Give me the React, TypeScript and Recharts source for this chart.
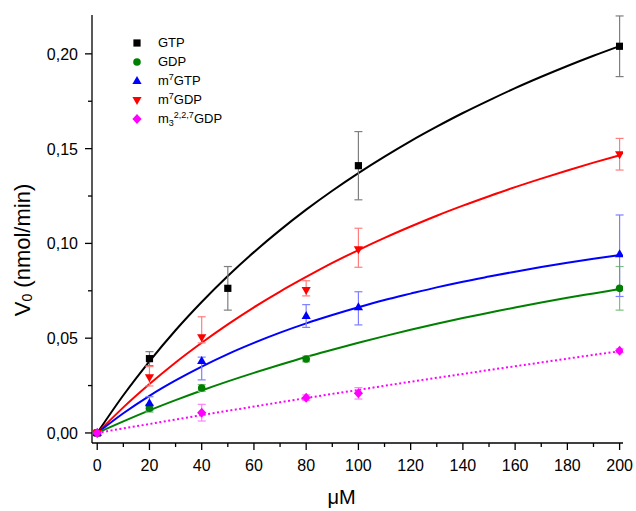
import {
  ComposedChart,
  ErrorBar,
  Legend,
  Line,
  Scatter,
  XAxis,
  YAxis,
} from "recharts";

// fitted curves, every 10 µM
const fitX = [0, 10, 20, 30, 40, 50, 60, 70, 80, 90, 100, 110, 120, 130, 140, 150, 160, 170, 180, 190, 200];
const gtpFit = [0, 0.0199, 0.0378, 0.0542, 0.0691, 0.0828, 0.0954, 0.107, 0.1178, 0.1278, 0.1371, 0.1458, 0.154, 0.1616, 0.1688, 0.1755, 0.1819, 0.1879, 0.1936, 0.199, 0.2041];
const gdpFit = [0, 0.0061, 0.0119, 0.0173, 0.0224, 0.0272, 0.0317, 0.036, 0.0401, 0.0439, 0.0476, 0.0511, 0.0544, 0.0576, 0.0606, 0.0634, 0.0662, 0.0688, 0.0713, 0.0736, 0.0759];
const m7gtpFit = [0, 0.0104, 0.0196, 0.0277, 0.035, 0.0416, 0.0475, 0.0529, 0.0578, 0.0622, 0.0663, 0.0701, 0.0735, 0.0768, 0.0798, 0.0825, 0.0851, 0.0875, 0.0898, 0.0919, 0.0939];
const m7gdpFit = [0, 0.0135, 0.0258, 0.0372, 0.0476, 0.0573, 0.0663, 0.0746, 0.0823, 0.0897, 0.0965, 0.1029, 0.1089, 0.1146, 0.1199, 0.1249, 0.1297, 0.1342, 0.1385, 0.1426, 0.1465];
const m3gdpFit = [0, 0.0024, 0.0047, 0.0071, 0.0094, 0.0117, 0.0139, 0.0162, 0.0184, 0.0206, 0.0227, 0.0249, 0.027, 0.0291, 0.0311, 0.0332, 0.0352, 0.0372, 0.0392, 0.0412, 0.0431];

// measured points, error as [minus, plus]
const gtpX = [0, 20, 50, 100, 200];
const gtpY = [0, 0.0392, 0.0763, 0.141, 0.204];
const gtpErr = [[0.001, 0.001], [0.0037, 0.0037], [0.0115, 0.0115], [0.018, 0.018], [0.016, 0.016]];

const gdpX = [0, 20, 40, 80, 200];
const gdpY = [0, 0.013, 0.0237, 0.039, 0.0763];
const gdpErr = [[0.001, 0.001], [0.002, 0.002], [0.0018, 0.0018], [0.0015, 0.0015], [0.0115, 0.0115]];

const m7gtpX = [0, 20, 40, 80, 100, 200];
const m7gtpY = [0, 0.0157, 0.038, 0.0617, 0.0663, 0.0943];
const m7gtpErr = [[0.001, 0.001], [0.004, 0.0034], [0.01, 0.002], [0.006, 0.006], [0.0093, 0.0082], [0.0223, 0.0207]];

const m7gdpX = [0, 20, 40, 80, 100, 200];
const m7gdpY = [0, 0.0294, 0.0505, 0.0754, 0.0969, 0.147];
const m7gdpErr = [[0.001, 0.001], [0.0046, 0.0056], [0.003, 0.0108], [0.0031, 0.0049], [0.0095, 0.0111], [0.0083, 0.0084]];

const m3gdpX = [0, 40, 80, 100, 200];
const m3gdpY = [0, 0.0107, 0.0186, 0.0209, 0.0434];
const m3gdpErr = [[0.001, 0.001], [0.0044, 0.0044], [0.0015, 0.0015], [0.003, 0.003], [0.001, 0.001]];

const xTicks = [0, 10, 20, 30, 40, 50, 60, 70, 80, 90, 100, 110, 120, 130, 140, 150, 160, 170, 180, 190, 200];
const yTicks = [0, 0.025, 0.05, 0.075, 0.1, 0.125, 0.15, 0.175, 0.2];

const FONT = "'Liberation Sans', Arial, sans-serif";

const fit = (ys: number[]) => fitX.map((x, i) => ({ x, y: ys[i] }));
const pts = (xs: number[], ys: number[], err: number[][]) =>
  xs.map((x, i) => ({ x, y: ys[i], err: err[i] }));

type Kind = "square" | "circle" | "up" | "down" | "diamond";

function Marker({ kind, cx, cy, color }: { kind: Kind; cx: number; cy: number; color: string }) {
  if (kind === "square") return <rect x={cx - 3.6} y={cy - 3.6} width={7.2} height={7.2} fill={color} />;
  if (kind === "circle") return <circle cx={cx} cy={cy} r={3.8} fill={color} />;
  if (kind === "up")
    return <polygon points={`${cx},${cy - 5} ${cx - 4.6},${cy + 3} ${cx + 4.6},${cy + 3}`} fill={color} />;
  if (kind === "down")
    return <polygon points={`${cx},${cy + 5} ${cx - 4.6},${cy - 3} ${cx + 4.6},${cy - 3}`} fill={color} />;
  return <polygon points={`${cx},${cy - 5} ${cx + 4.6},${cy} ${cx},${cy + 5} ${cx - 4.6},${cy}`} fill={color} />;
}

const shape = (kind: Kind, color: string) => (p: any) => <Marker kind={kind} cx={p.cx} cy={p.cy} color={color} />;

function XTick({ x, y, payload }: any) {
  const major = payload.value % 20 === 0;
  return (
    <g>
      <line x1={x} x2={x} y1={y} y2={y + (major ? 7 : 4)} stroke="#000" strokeWidth={1.3} />
      {major && (
        <text x={x} y={y + 28} textAnchor="middle" fontSize={16} fontFamily={FONT} fill="#000">
          {payload.value}
        </text>
      )}
    </g>
  );
}

function YTick({ x, y, payload }: any) {
  const major = Math.round(payload.value * 1000) % 50 === 0;
  return (
    <g>
      <line x1={x - (major ? 7 : 4)} x2={x} y1={y} y2={y} stroke="#000" strokeWidth={1.3} />
      {major && (
        <text x={x - 14} y={y + 6} textAnchor="end" fontSize={16} fontFamily={FONT} fill="#000">
          {payload.value.toFixed(2).replace(".", ",")}
        </text>
      )}
    </g>
  );
}

const supStyle = { fontSize: 9, position: "relative" as const, top: -5, lineHeight: 0 };
const subStyle = { fontSize: 9, position: "relative" as const, top: 3, lineHeight: 0 };

const legendItems: { kind: Kind; color: string; label: React.ReactNode }[] = [
  { kind: "square", color: "#000000", label: "GTP" },
  { kind: "circle", color: "#008000", label: "GDP" },
  { kind: "up", color: "#0000ff", label: <>m<span style={supStyle}>7</span>GTP</> },
  { kind: "down", color: "#ff0000", label: <>m<span style={supStyle}>7</span>GDP</> },
  { kind: "diamond", color: "#ff00ff", label: <>m<span style={subStyle}>3</span><span style={supStyle}>2,2,7</span>GDP</> },
];

function LegendBox() {
  return (
    <div style={{ fontFamily: FONT, fontSize: 13, color: "#000" }}>
      {legendItems.map((item, i) => (
        <div key={i} style={{ display: "flex", alignItems: "center", height: 19, whiteSpace: "nowrap" }}>
          <svg width={12} height={12} style={{ marginRight: 15, flexShrink: 0 }}>
            <Marker kind={item.kind} cx={6} cy={6} color={item.color} />
          </svg>
          <span style={{ lineHeight: "13px" }}>{item.label}</span>
        </div>
      ))}
    </div>
  );
}

export default function App() {
  return (
    <div style={{ position: "absolute", left: 0, top: 0, background: "#fff", fontFamily: FONT }}>
      <ComposedChart width={636} height={511} margin={{ top: 15, right: 13, bottom: 0, left: 0 }}>
        <XAxis
          dataKey="x"
          type="number"
          domain={[-2, 201.3]}
          ticks={xTicks}
          interval={0}
          allowDataOverflow
          height={68}
          tickSize={0}
          tickMargin={0}
          tick={<XTick />}
          axisLine={{ stroke: "#000", strokeWidth: 1.3 }}
          label={{
            content: ({ viewBox }: any) => (
              <text x={viewBox.x + viewBox.width / 2 - 16} y={504} textAnchor="middle" fontSize={20} fontFamily={FONT}>
                μM
              </text>
            ),
          }}
        />
        <YAxis
          dataKey="y"
          type="number"
          domain={[-0.0053, 0.2205]}
          ticks={yTicks}
          interval={0}
          allowDataOverflow
          width={92}
          tickSize={0}
          tickMargin={0}
          tick={<YTick />}
          axisLine={{ stroke: "#000", strokeWidth: 1.3 }}
          label={{
            content: () => (
              <text x={22} y={250} transform="rotate(-90 22 250)" textAnchor="middle" dominantBaseline="central" fontSize={22} fontFamily={FONT}>
                V<tspan fontSize={14} dy={5}>0</tspan>
                <tspan dy={-5}> (nmol/min)</tspan>
              </text>
            ),
          }}
        />
        <Legend
          layout="vertical"
          align="center"
          verticalAlign="middle"
          content={<LegendBox />}
          wrapperStyle={{ position: "absolute", left: 131, top: 33, width: "auto", height: "auto" }}
        />
        <Line data={fit(gtpFit)} dataKey="y" type="monotone" stroke="#000000" strokeWidth={2} dot={false} isAnimationActive={false} legendType="none" />
        <Line data={fit(m7gdpFit)} dataKey="y" type="monotone" stroke="#ff0000" strokeWidth={2} dot={false} isAnimationActive={false} legendType="none" />
        <Line data={fit(m7gtpFit)} dataKey="y" type="monotone" stroke="#0000ff" strokeWidth={2} dot={false} isAnimationActive={false} legendType="none" />
        <Line data={fit(gdpFit)} dataKey="y" type="monotone" stroke="#008000" strokeWidth={2} dot={false} isAnimationActive={false} legendType="none" />
        <Line data={fit(m3gdpFit)} dataKey="y" type="monotone" stroke="#ff00ff" strokeWidth={2} strokeDasharray="2 2.5" dot={false} isAnimationActive={false} legendType="none" />
        <Scatter data={pts(gtpX, gtpY, gtpErr)} dataKey="y" shape={shape("square", "#000000")} isAnimationActive={false}>
          <ErrorBar dataKey="err" direction="y" width={4} stroke="#7f7f7f" strokeWidth={1.2} />
        </Scatter>
        <Scatter data={pts(gdpX, gdpY, gdpErr)} dataKey="y" shape={shape("circle", "#008000")} isAnimationActive={false}>
          <ErrorBar dataKey="err" direction="y" width={4} stroke="#7fbf7f" strokeWidth={1.2} />
        </Scatter>
        <Scatter data={pts(m7gtpX, m7gtpY, m7gtpErr)} dataKey="y" shape={shape("up", "#0000ff")} isAnimationActive={false}>
          <ErrorBar dataKey="err" direction="y" width={4} stroke="#7f7fff" strokeWidth={1.2} />
        </Scatter>
        <Scatter data={pts(m7gdpX, m7gdpY, m7gdpErr)} dataKey="y" shape={shape("down", "#ff0000")} isAnimationActive={false}>
          <ErrorBar dataKey="err" direction="y" width={4} stroke="#ff7f7f" strokeWidth={1.2} />
        </Scatter>
        <Scatter data={pts(m3gdpX, m3gdpY, m3gdpErr)} dataKey="y" shape={shape("diamond", "#ff00ff")} isAnimationActive={false}>
          <ErrorBar dataKey="err" direction="y" width={4} stroke="#ff7fff" strokeWidth={1.2} />
        </Scatter>
      </ComposedChart>
    </div>
  );
}
